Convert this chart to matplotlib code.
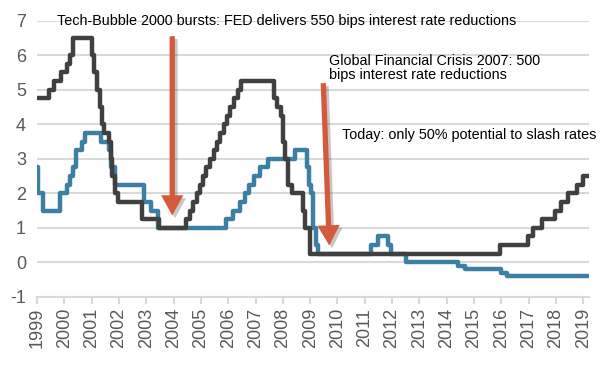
import numpy as np
import matplotlib
matplotlib.use("Agg")
import matplotlib.pyplot as plt
import matplotlib.patheffects as pe

plt.rcParams['font.family'] = ['Liberation Sans', 'DejaVu Sans']
plt.rcParams['axes.unicode_minus'] = False

# FED funds target rate: change dates (decimal year) and level after the change
fed_dates = [1999.0, 1999.45, 1999.62, 1999.87, 2000.08, 2000.21, 2000.33,
             2001.0, 2001.07, 2001.2, 2001.29, 2001.37, 2001.47, 2001.62,
             2001.7, 2001.76, 2001.84, 2001.95, 2002.84, 2003.45,
             2004.47, 2004.6, 2004.7, 2004.84, 2004.95, 2005.07, 2005.2,
             2005.33, 2005.47, 2005.59, 2005.7, 2005.83, 2005.95, 2006.07,
             2006.2, 2006.34, 2006.45, 2007.66, 2007.8, 2007.93, 2008.02,
             2008.08, 2008.2, 2008.33, 2008.74, 2008.82, 2008.98,
             2015.96, 2016.98, 2017.17, 2017.47, 2017.97, 2018.2, 2018.45,
             2018.76, 2018.99, 2019.17]
fed_rates = [4.75, 5.0, 5.25, 5.5, 5.75, 6.0, 6.5,
             6.0, 5.5, 5.0, 4.5, 4.0, 3.75, 3.5,
             3.0, 2.5, 2.0, 1.75, 1.25, 1.0,
             1.25, 1.5, 1.75, 2.0, 2.25, 2.5, 2.75,
             3.0, 3.25, 3.5, 3.75, 4.0, 4.25, 4.5,
             4.75, 5.0, 5.25, 4.75, 4.5, 4.25, 3.5,
             3.0, 2.25, 2.0, 1.5, 1.0, 0.25,
             0.5, 0.75, 1.0, 1.25, 1.5, 1.75, 2.0,
             2.25, 2.5, 2.5]

# ECB deposit facility rate
ecb_dates = [1999.0, 1999.02, 1999.22, 1999.83, 2000.08, 2000.2, 2000.32,
             2000.43, 2000.66, 2000.75, 2001.35, 2001.64, 2001.7, 2001.84,
             2002.92, 2003.18, 2003.42, 2005.92, 2006.18, 2006.44, 2006.6,
             2006.77, 2006.94, 2007.18, 2007.44, 2008.45, 2008.9, 2008.96,
             2009.02, 2009.1, 2009.2, 2009.27, 2011.22, 2011.5, 2011.85,
             2011.97, 2012.5, 2014.42, 2014.68, 2016.0, 2016.2, 2019.2]
ecb_rates = [2.75, 2.0, 1.5, 2.0, 2.25, 2.5, 2.75,
             3.25, 3.5, 3.75, 3.5, 3.25, 2.75, 2.25,
             1.75, 1.5, 1.0, 1.25, 1.5, 1.75, 2.0,
             2.25, 2.5, 2.75, 3.0, 3.25, 2.75, 2.25,
             2.0, 1.0, 0.5, 0.25, 0.5, 0.75, 0.5,
             0.25, 0.0, -0.1, -0.2, -0.3, -0.4, -0.4]

years = list(range(1999, 2020))

fig = plt.figure(figsize=(6.09, 3.67), dpi=100)
ax = fig.add_axes([0.0608, 0.191, 0.906, 0.7526])

ax.step(ecb_dates, ecb_rates, where='post', color='#3D7EA3', lw=3.2, zorder=3)
ax.step(fed_dates, fed_rates, where='post', color='#404040', lw=3.2, zorder=4)

ax.set_xlim(1999, 2019.2)
ax.set_ylim(-1, 7)
ax.set_yticks(range(-1, 8))
ax.set_xticks(years)
ax.set_xticklabels([str(y) for y in years], rotation=90)
ax.tick_params(axis='y', length=0, labelsize=13, colors='#595959', pad=8)
ax.tick_params(axis='x', length=5, width=1.5, color='#D9D9D9', labelsize=13,
               labelcolor='#595959', pad=3)
for s in ['top', 'right', 'left']:
    ax.spines[s].set_visible(False)
ax.spines['bottom'].set_color('#D9D9D9')
ax.spines['bottom'].set_linewidth(1.5)
ax.grid(axis='y', color='#D9D9D9', lw=1.5, zorder=0)
ax.set_axisbelow(True)

arrow_color = '#D35A3C'
shadow = [pe.SimplePatchShadow(offset=(2, -2), alpha=0.25), pe.Normal()]
style = "simple,head_width=1.6,head_length=1.45,tail_width=0.38"
ax.annotate('', xy=(2003.95, 1.36), xytext=(2003.95, 6.55),
            arrowprops=dict(arrowstyle=style, color=arrow_color, lw=0,
                            mutation_scale=10, shrinkA=0, shrinkB=0,
                            path_effects=shadow), zorder=5)
ax.annotate('', xy=(2009.7, 0.49), xytext=(2009.48, 5.19),
            arrowprops=dict(arrowstyle=style, color=arrow_color, lw=0,
                            mutation_scale=10, shrinkA=0, shrinkB=0,
                            path_effects=shadow), zorder=5)

tfont = dict(fontsize=10.4, color='black', zorder=6)
ax.text(1999.73, 7.0, 'Tech-Bubble 2000 bursts: FED delivers 550 bips interest rate reductions',
        va='center', ha='left', **tfont)
ax.text(2009.7, 5.63, 'Global Financial Crisis 2007: 500\nbips interest rate reductions',
        va='center', ha='left', linespacing=1.05, **tfont)
ax.text(2010.17, 3.7, 'Today: only 50% potential to slash rates',
        va='center', ha='left', **tfont)

fig.savefig('out.png', dpi=100)
